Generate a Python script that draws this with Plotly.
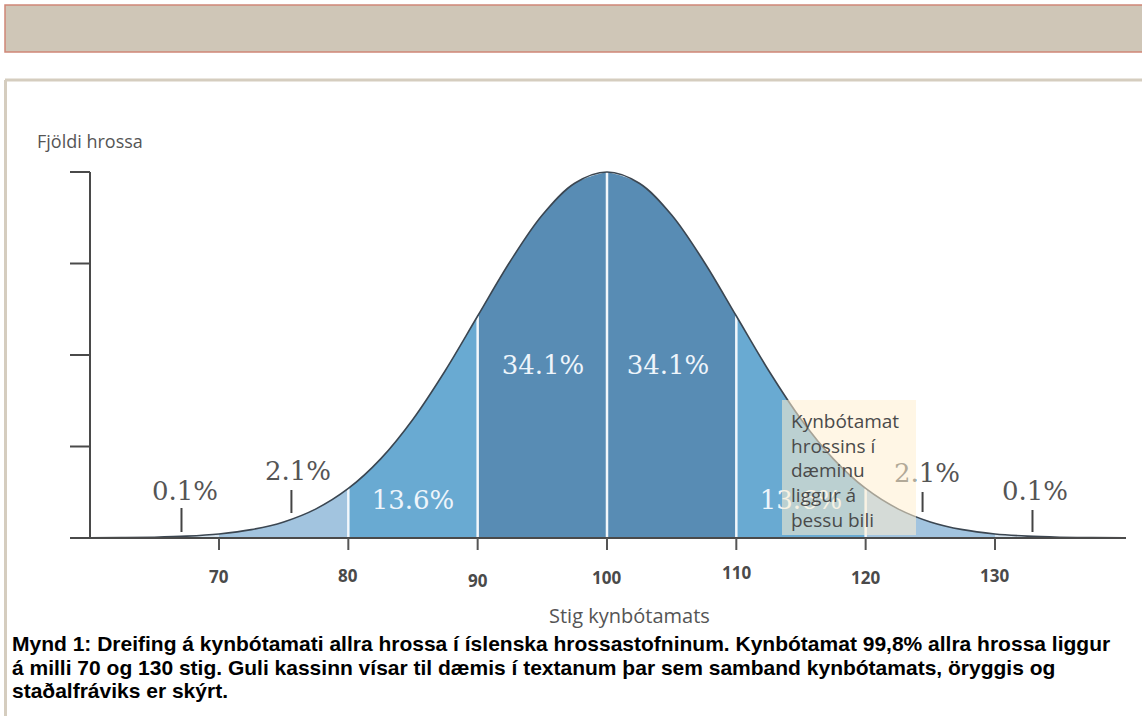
import plotly.graph_objects as go

# ---------------- data ----------------
STIG = [60, 62.5, 65, 67.5, 70, 72.5, 75, 77.5, 80, 82.5, 85, 87.5, 90, 92.5, 95, 97.5,
        100, 102.5, 105, 107.5, 110, 112.5, 115, 117.5, 120, 122.5, 125, 127.5, 130,
        132.5, 135, 137.5, 140]
HAED = [0.0003, 0.0009, 0.0022, 0.0051, 0.0111, 0.0228, 0.0439, 0.0796, 0.1353, 0.2163,
        0.3247, 0.4578, 0.6065, 0.7548, 0.8825, 0.9692, 1.0, 0.9692, 0.8825, 0.7548,
        0.6065, 0.4578, 0.3247, 0.2163, 0.1353, 0.0796, 0.0439, 0.0228, 0.0111, 0.0051,
        0.0022, 0.0009, 0.0003]
BOUNDS = [60, 70, 80, 90, 100, 110, 120, 130, 140]
SEG_COLORS = ["#d6e5f1", "#a2c4df", "#69aad2", "#588cb4", "#588cb4", "#69aad2", "#a2c4df", "#d6e5f1"]
WHITE_LINES = [80, 90, 100, 110, 120]
PCT_LABELS = ["0.1%", "2.1%", "13.6%", "34.1%", "34.1%", "13.6%", "2.1%", "0.1%"]
X_TICKS = [70, 80, 90, 100, 110, 120, 130]
X_TICK_LABELS = ["70", "80", "90", "100", "110", "120", "130"]
Y_TICKS = [0.25, 0.5, 0.75, 1.0]
SD_MARKS = [67.1, 75.6, 124.4, 132.9]
Y_TITLE = "Fjöldi hrossa"
X_TITLE = "Stig kynbótamats"
BOX_TEXT = ["Kynbótamat", "hrossins í", "dæminu", "liggur á", "þessu bili"]
CAPTION = [
    "Mynd 1: Dreifing á kynbótamati allra hrossa í íslenska hrossastofninum. Kynbótamat 99,8% allra hrossa liggur",
    "á milli 70 og 130 stig. Guli kassinn vísar til dæmis í textanum þar sem samband kynbótamats, öryggis og",
    "staðalfráviks er skýrt.",
]

W, H = 1142, 716
# pixel <-> data mapping of the drawing
X0V, PX_PER = 70.0, 12.933    # value 70 at px 219
X0PX = 219.0
BASE_PX, PEAK_H = 538.0, 366.0


def vx(px):
    return X0V + (px - X0PX) / PX_PER


def vy(py):
    return (BASE_PX - py) / PEAK_H


def pxp(px):
    return px / W


def pyp(py):
    return 1 - py / H


fig = go.Figure()

# filled segments
for i in range(len(BOUNDS) - 1):
    lo, hi = BOUNDS[i], BOUNDS[i + 1]
    xs = [x for x in STIG if lo <= x <= hi]
    ys = [HAED[STIG.index(x)] for x in xs]
    fig.add_trace(go.Scatter(x=xs, y=ys, mode="lines", line=dict(width=0, shape="spline", color=SEG_COLORS[i]),
                             fill="tozeroy", fillcolor=SEG_COLORS[i], hoverinfo="skip", showlegend=False))

# white separators
for b in WHITE_LINES:
    h = HAED[STIG.index(b)]
    fig.add_trace(go.Scatter(x=[b, b], y=[0, h], mode="lines", line=dict(color="#f2f7fb", width=2.5),
                             hoverinfo="skip", showlegend=False))

# outline
fig.add_trace(go.Scatter(x=STIG, y=HAED, mode="lines", line=dict(color="#3b4651", width=1.6, shape="spline"),
                         hoverinfo="skip", showlegend=False))

# percentage labels (as trace text so the box can sit above them)
lab_x = [vx(p) for p in [185, 298, 413, 543, 668, 801, 927, 1035]]
lab_y = [vy(p) for p in [493, 473, 502, 367, 367, 502, 475, 493]]
lab_c = ["#555555", "#555555", "#eef5fb", "#eef5fb", "#eef5fb", "#eef5fb", "#555555", "#555555"]
fig.add_trace(go.Scatter(x=lab_x, y=lab_y, mode="text", text=PCT_LABELS,
                         textfont=dict(family="DejaVu Serif", size=26, color=lab_c),
                         textposition="middle center", hoverinfo="skip", showlegend=False))

shapes = []
axc = "#4a4a4a"
# baseline and y axis
yax = vx(90)
shapes.append(dict(type="line", xref="x", yref="y", x0=vx(70), x1=vx(1126), y0=0, y1=0,
                   line=dict(color=axc, width=2)))
shapes.append(dict(type="line", xref="x", yref="y", x0=yax, x1=yax, y0=0, y1=max(Y_TICKS),
                   line=dict(color=axc, width=2)))
for t in Y_TICKS:
    shapes.append(dict(type="line", xref="x", yref="y", x0=vx(70), x1=yax, y0=t, y1=t,
                       line=dict(color=axc, width=2)))
for t in X_TICKS:
    shapes.append(dict(type="line", xref="x", yref="y", x0=t, x1=t, y0=0, y1=vy(550),
                       line=dict(color="#555555", width=2)))
sd_ext = [(532, 508), (513, 490), (512, 492), (532, 510)]
for m, (a, b) in zip(SD_MARKS, sd_ext):
    shapes.append(dict(type="line", xref="x", yref="y", x0=m, x1=m, y0=vy(a), y1=vy(b),
                       line=dict(color="#444444", width=2)))

# yellow example box (above the data)
shapes.append(dict(type="rect", xref="x", yref="y", x0=vx(782), x1=vx(916), y0=vy(535), y1=vy(400),
                   fillcolor="rgba(255,238,208,0.55)", line=dict(width=0), layer="above"))

# page decoration: banner and frame
shapes.append(dict(type="rect", xref="paper", yref="paper", x0=pxp(5), x1=pxp(1150), y0=pyp(52), y1=pyp(5),
                   fillcolor="#cfc6b7", line=dict(color="#cf8777", width=1.5)))
shapes.append(dict(type="line", xref="paper", yref="paper", x0=pxp(5), x1=pxp(1150), y0=pyp(80), y1=pyp(80),
                   line=dict(color="#d5cdbf", width=3)))
shapes.append(dict(type="line", xref="paper", yref="paper", x0=pxp(5.5), x1=pxp(5.5), y0=pyp(80), y1=pyp(720),
                   line=dict(color="#d5cdbf", width=3)))

ann = []
tick_y = [576, 575, 580, 577, 572, 577, 575]
for t, lab, py in zip(X_TICKS, X_TICK_LABELS, tick_y):
    ann.append(dict(x=t, y=vy(py), xref="x", yref="y", text=lab, showarrow=False,
                    font=dict(family="Open Sans", size=17, color="#4a4a4a", weight=700)))
ann.append(dict(x=pxp(35), y=pyp(141), xref="paper", yref="paper", text=Y_TITLE, showarrow=False,
                xanchor="left", yanchor="middle", font=dict(family="Open Sans", size=18, color="#555555")))
ann.append(dict(x=pxp(629), y=pyp(615), xref="paper", yref="paper", text=X_TITLE, showarrow=False,
                xanchor="center", yanchor="middle", font=dict(family="Open Sans", size=20, color="#555555")))
ann.append(dict(x=pxp(789), y=pyp(406), xref="paper", yref="paper", text="<br>".join(BOX_TEXT), showarrow=False,
                xanchor="left", yanchor="top", align="left",
                font=dict(family="Open Sans", size=19, color="#4a4a4a")))
for line, py in zip(CAPTION, [643, 667, 690]):
    ann.append(dict(x=pxp(10), y=pyp(py), xref="paper", yref="paper", text=line, showarrow=False,
                    xanchor="left", yanchor="middle",
                    font=dict(family="Liberation Sans", size=21, color="#000000", weight=700)))

fig.update_layout(
    width=W, height=H, margin=dict(l=0, r=0, t=0, b=0),
    paper_bgcolor="white", plot_bgcolor="white",
    xaxis=dict(range=[vx(0), vx(W)], visible=False, fixedrange=True),
    yaxis=dict(range=[vy(H), vy(0)], visible=False, fixedrange=True),
    shapes=shapes, annotations=ann, showlegend=False,
)

fig.write_html("out.html", config={"displayModeBar": False},
               post_script="document.body.style.margin='0';document.body.style.overflow='hidden';")
